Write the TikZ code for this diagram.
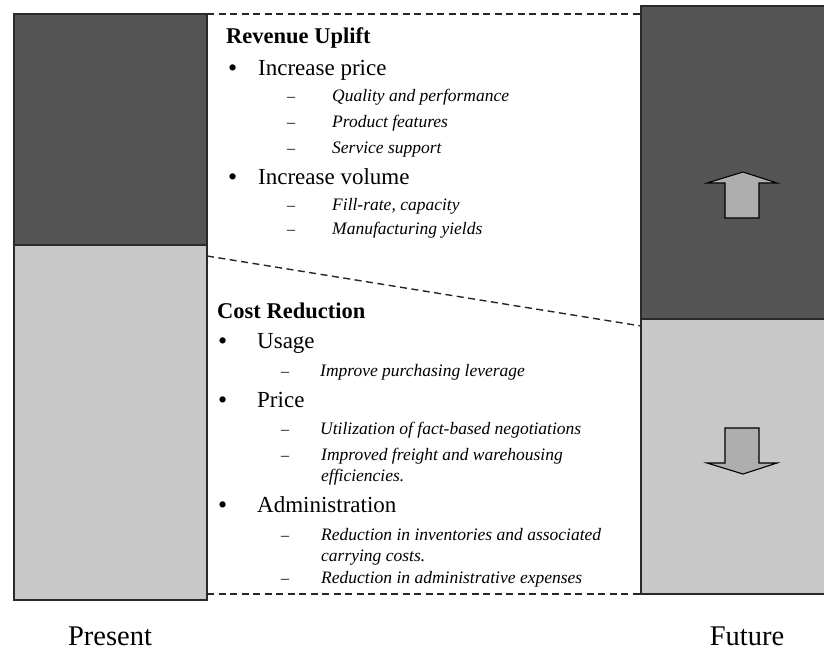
\documentclass[tikz,border=0pt]{standalone}
\usepackage{fontspec}
\setmainfont{Liberation Serif}
\definecolor{darkbar}{HTML}{555555}
\definecolor{lightbar}{HTML}{C8C8C8}
\definecolor{arrowfill}{HTML}{AEAEAE}
\definecolor{edgecol}{HTML}{2A2A2A}
\tikzset{
  barpart/.style={draw=edgecol, line width=1.4pt},
  dashline/.style={draw=black!85, line width=1.4pt, dash pattern=on 7pt off 4.5pt},
  headtxt/.style={anchor=base west, inner sep=0pt, font=\fontsize{22.5}{26}\selectfont\bfseries},
  itemtxt/.style={anchor=base west, inner sep=0pt, font=\fontsize{23}{27}\selectfont},
  subtxt/.style={anchor=base west, inner sep=0pt, font=\fontsize{17.5}{21}\selectfont\itshape},
  bul/.style={anchor=base west, inner sep=0pt, font=\fontsize{26}{28}\selectfont},
  dsh/.style={anchor=base west, inner sep=0pt, font=\fontsize{16}{20}\selectfont},
  bigtxt/.style={anchor=base, inner sep=0pt, font=\fontsize{28.5}{32}\selectfont},
  fatarrow/.style={draw=black, line width=1.1pt, fill=arrowfill, line join=miter}
}
\begin{document}
\begin{tikzpicture}[x=1pt,y=-1pt]
\useasboundingbox (0,0) rectangle (824,654);
\clip (0,0) rectangle (824,654);
% left bar (Present)
\fill[darkbar] (14,14) rectangle (207,245);
\fill[lightbar] (14,245) rectangle (207,600);
\draw[barpart] (14,14) rectangle (207,600);
\draw[barpart] (14,245) -- (207,245);
% right bar (Future)
\fill[darkbar] (641,6) rectangle (830,319);
\fill[lightbar] (641,319) rectangle (830,594);
\draw[barpart] (830,6) -- (641,6) -- (641,594) -- (830,594);
\draw[barpart] (641,319) -- (830,319);
% connector coordinates
\coordinate (ptop) at (207,14);
\coordinate (pmid) at (207,256);
\coordinate (pbot) at (207,594);
\coordinate (ftop) at (641,14);
\coordinate (fmid) at (641,326);
\coordinate (fbot) at (641,594);
\draw[dashline] (ptop) -- (ftop);
\draw[dashline] (pmid) -- (fmid);
\draw[dashline] (pbot) -- (fbot);
% arrows
\draw[fatarrow] (725,218) -- (725,183) -- (707,183) -- (743,172) -- (777,183) -- (759,183) -- (759,218) -- cycle;
\draw[fatarrow] (725,428) -- (759,428) -- (759,463) -- (777,463) -- (743,474) -- (707,463) -- (725,463) -- cycle;
% Revenue uplift text
\node[headtxt] (rev) at (226,43) {Revenue Uplift};
\node[bul] (b1) at (228,76) {•};
\node[itemtxt] (ip) at (258,75) {Increase price};
\node[dsh] (d1) at (287,101) {–};
\node[subtxt] (q) at (332,101) {Quality and performance};
\node[dsh] (d2) at (287,127) {–};
\node[subtxt] (pf) at (332,127) {Product features};
\node[dsh] (d3) at (287,153) {–};
\node[subtxt] (ss) at (332,153) {Service support};
\node[bul] (b2) at (228,185) {•};
\node[itemtxt] (iv) at (258,184) {Increase volume};
\node[dsh] (d4) at (287,210) {–};
\node[subtxt] (fr) at (332,210) {Fill-rate, capacity};
\node[dsh] (d5) at (287,234) {–};
\node[subtxt] (my) at (332,234) {Manufacturing yields};
% Cost reduction text
\node[headtxt] (cr) at (217,318) {Cost Reduction};
\node[bul] (b3) at (218,349) {•};
\node[itemtxt] (us) at (257,348) {Usage};
\node[dsh] (d6) at (281,376) {–};
\node[subtxt] (ipl) at (320,376) {Improve purchasing leverage};
\node[bul] (b4) at (218,408) {•};
\node[itemtxt] (pr) at (257,407) {Price};
\node[dsh] (d7) at (281,434) {–};
\node[subtxt] (ut) at (320,434) {Utilization of fact-based negotiations};
\node[dsh] (d8) at (281,460) {–};
\node[subtxt] (imf) at (321,460) {Improved freight and warehousing};
\node[subtxt] (eff) at (321,481) {efficiencies.};
\node[bul] (b5) at (218,513) {•};
\node[itemtxt] (ad) at (257,512) {Administration};
\node[dsh] (d9) at (281,540) {–};
\node[subtxt] (ri) at (321,540) {Reduction in inventories and associated};
\node[subtxt] (cc) at (321,561) {carrying costs.};
\node[dsh] (d10) at (281,583) {–};
\node[subtxt] (ra) at (321,583) {Reduction in administrative expenses};
% bottom labels
\node[bigtxt] (present) at (110,645) {Present};
\node[bigtxt] (future) at (747,645) {Future};
\end{tikzpicture}
\end{document}
